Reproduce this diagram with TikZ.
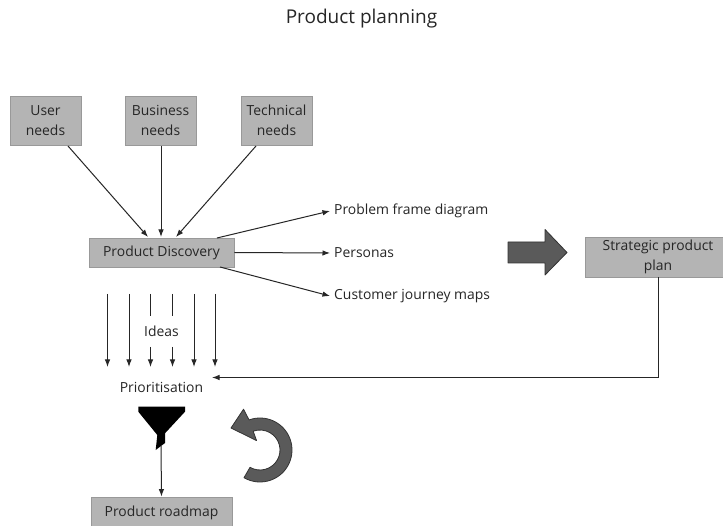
\documentclass[tikz,border=0pt]{standalone}
\usepackage{fontspec}
\setmainfont{Open Sans}
\usetikzlibrary{arrows.meta}
\definecolor{boxfill}{HTML}{B4B4B4}
\definecolor{boxline}{HTML}{999999}
\definecolor{ink}{HTML}{262626}
\definecolor{bigarrow}{HTML}{5A5A5A}
\begin{document}
\begin{tikzpicture}[x=1pt,y=1pt,
  every node/.style={text=ink, font=\fontsize{13.9}{19.5}\selectfont},
  box/.style={draw=boxline, fill=boxfill, line width=0.8pt, align=center, inner sep=0pt},
  needbox/.style={box, minimum width=71pt, minimum height=49pt},
  label/.style={inner sep=0pt, anchor=west},
  conn/.style={draw=ink, line width=1pt, -{Latex[length=7.5pt,width=5.5pt]}},
  plain/.style={draw=ink, line width=1pt},
  solid shape/.style={fill=bigarrow, draw=black!80, line width=0.8pt, line join=round}]
\useasboundingbox (0,0) rectangle (723,-526);
\fill[white] (0,0) rectangle (723,-526);

% title
\node (title) at (361.5,-19) {\fontsize{19}{22}\selectfont Product planning};

% needs
\node[needbox] (user) at (45.5,-120.5) {User\\needs};
\node[needbox] (business) at (160.5,-120.5) {Business\\needs};
\node[needbox] (technical) at (276.5,-120.5) {Technical\\needs};

% discovery and its outputs
\node[box, minimum width=145pt, minimum height=29pt] (discovery) at (161.5,-252.5) {Product Discovery};
\node[label] (pfd) at (334,-211) {Problem frame diagram};
\node[label] (personas) at (334,-253) {Personas};
\node[label] (cjm) at (334,-296) {Customer journey maps};

\coordinate (u1) at (68,-146);  \coordinate (u2) at (148,-237);
\coordinate (b1) at (161,-146); \coordinate (b2) at (161,-237);
\coordinate (t1) at (256,-146); \coordinate (t2) at (176,-237);
\draw[conn] (u1) -- (u2);
\draw[conn] (b1) -- (b2);
\draw[conn] (t1) -- (t2);

\coordinate (d1) at (217,-238);
\coordinate (d3) at (220,-267);
\draw[conn] (d1) -- ([xshift=-4pt]pfd.west);
\draw[conn] (discovery.east) -- ([xshift=-4pt]personas.west);
\draw[conn] (d3) -- ([xshift=-4pt]cjm.west);

% block arrow towards the plan
\draw[solid shape] (508,-242) -- (545,-242) -- (545,-229.5) -- (567,-252.5)
  -- (545,-275) -- (545,-263) -- (508,-263) -- cycle;

\node[box, minimum width=146pt, minimum height=40pt] (plan) at (658,-257) {Strategic product\\plan};

% ideas flowing into prioritisation
\node[inner sep=0pt] (ideas) at (161.5,-331) {Ideas};
\node[inner sep=0pt] (prio) at (161.5,-387) {Prioritisation};
\foreach \x [count=\i] in {107.5,129,194,215}{
  \coordinate (it\i) at (\x,-294);
  \coordinate (ib\i) at (\x,-367);
  \draw[conn] (it\i) -- (ib\i);
}
\foreach \x [count=\i] in {150.5,172.5}{
  \coordinate (mt\i) at (\x,-294);
  \coordinate (mm\i) at (\x,-316);
  \coordinate (mn\i) at (\x,-347);
  \coordinate (mb\i) at (\x,-367);
  \draw[plain] (mt\i) -- (mm\i);
  \draw[conn] (mn\i) -- (mb\i);
}

% plan feeds back into prioritisation
\coordinate (back) at (212,-377.5);
\draw[conn] (plan.south) |- (back);

% funnel
\fill[black] (138.3,-406.7) -- (185,-406.7) -- (185,-411.7) -- (165,-433.3)
  -- (165,-443) -- (155.7,-450) -- (157.3,-435) -- (138.3,-411.7) -- cycle;
\coordinate (fo) at (161,-446);
\node[box, minimum width=141pt, minimum height=31pt] (roadmap) at (161.5,-512.5) {Product roadmap};
\draw[conn] (fo) -- (roadmap.north);

% circular arrow
\coordinate (cc) at (260,-450);
\draw[solid shape] ([shift={(110:32pt)}]cc) arc[start angle=110, end angle=-120, radius=32pt]
  -- ([shift={(-120:20pt)}]cc) arc[start angle=-120, end angle=110, radius=20pt]
  -- ([shift={(110:10pt)}]cc) -- (231,-428) -- ([shift={(112:44pt)}]cc) -- cycle;
\end{tikzpicture}
\end{document}
